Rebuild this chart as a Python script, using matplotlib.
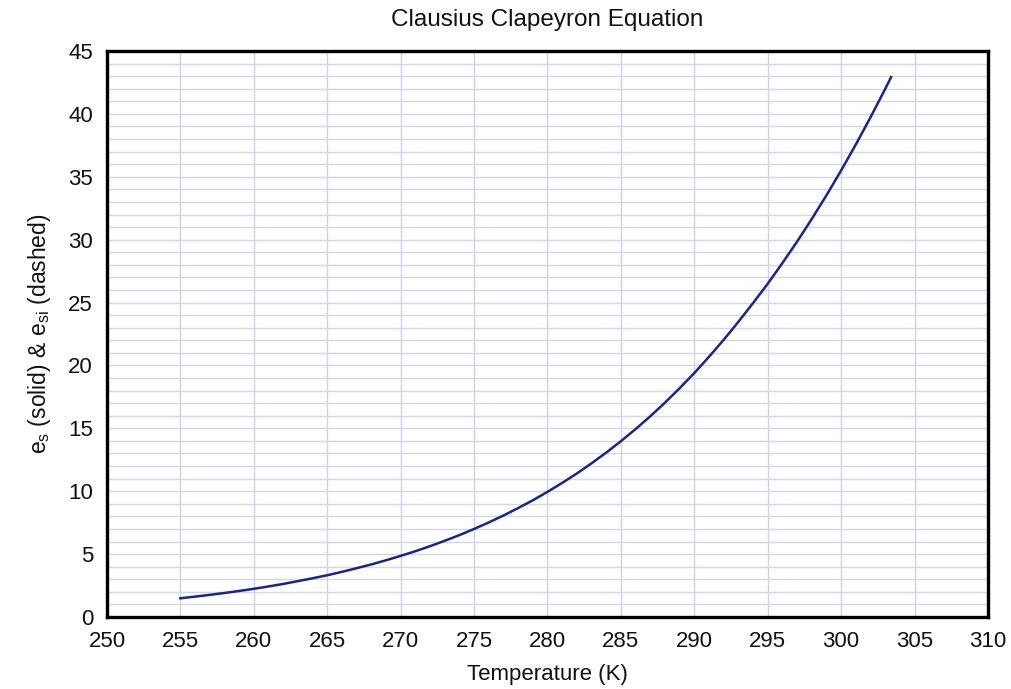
"""Clausius Clapeyron saturation vapour pressure curve."""
import matplotlib
matplotlib.use("Agg")
import matplotlib.pyplot as plt

# values (one per kelvin, plus the end point)
temperature_k = list(range(255, 304)) + [303.4]
e_s = [1.49, 1.62, 1.76, 1.91, 2.07, 2.24, 2.43, 2.63, 2.85, 3.08,
       3.32, 3.59, 3.88, 4.18, 4.51, 4.86, 5.23, 5.63, 6.06, 6.51,
       7.00, 7.52, 8.07, 8.66, 9.28, 9.95, 10.66, 11.41, 12.22, 13.07,
       13.98, 14.94, 15.96, 17.04, 18.19, 19.40, 20.69, 22.04, 23.47, 24.96,
       26.50, 28.14, 29.85, 31.65, 33.53, 35.51, 37.57, 39.73, 41.99, 42.92]

x_ticks = list(range(250, 311, 5))
y_ticks = list(range(0, 46, 5))

plt.rcParams["font.family"] = ["Liberation Sans", "DejaVu Sans"]
plt.rcParams["mathtext.fontset"] = "custom"
plt.rcParams["mathtext.rm"] = "Liberation Sans"
plt.rcParams["mathtext.it"] = "Liberation Sans"

fig = plt.figure(figsize=(10.12, 6.89), dpi=100)
ax = fig.add_axes([107 / 1012, 1 - 617 / 689, (988 - 107) / 1012, (617 - 51) / 689])

ax.plot(temperature_k, e_s, color="#1c2680", linewidth=1.8)

ax.set_xlim(250, 310)
ax.set_ylim(0, 45)
ax.set_xticks(x_ticks)
ax.set_yticks(y_ticks)
ax.set_yticks(range(0, 46), minor=True)
ax.tick_params(axis="both", which="both", length=0, labelsize=16, colors="#111111")
ax.tick_params(axis="x", pad=10)
ax.tick_params(axis="y", pad=10)

ax.grid(axis="x", which="major", color="#cfcfe8", linewidth=1.0)
ax.grid(axis="y", which="both", color="#d6d6ea", linewidth=1.0)
ax.set_axisbelow(True)

for spine in ax.spines.values():
    spine.set_linewidth(2.4)
    spine.set_color("black")

ax.set_title("Clausius Clapeyron Equation", fontsize=17.5, pad=18, color="#111111")
ax.set_xlabel("Temperature (K)", fontsize=16, labelpad=9, color="#111111")
ax.set_ylabel(r"e$_\mathregular{s}$ (solid) & e$_\mathregular{si}$ (dashed)",
              fontsize=16.5, labelpad=11, color="#111111")

fig.savefig("out.png", dpi=100)
